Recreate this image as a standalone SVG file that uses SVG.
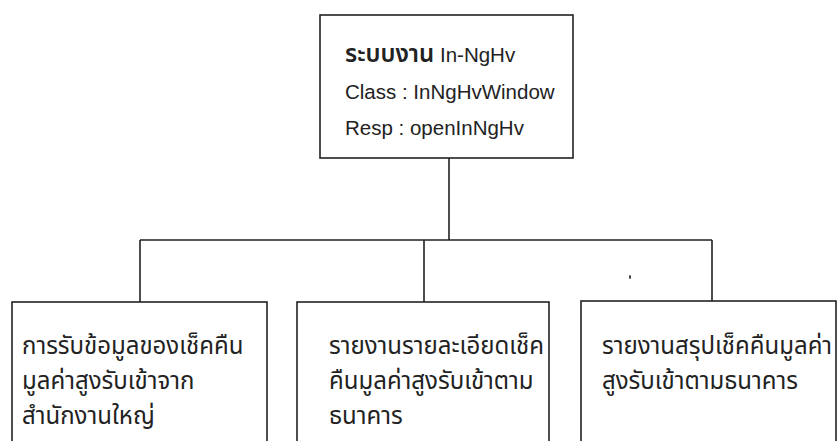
<svg xmlns="http://www.w3.org/2000/svg" width="838" height="441" viewBox="0 0 838 441">
<style>
.box{fill:#fff;stroke:#222;stroke-width:1.6}
.ln{fill:none;stroke:#222;stroke-width:1.6}
.lat{font-family:"Liberation Sans","Noto Sans Thai","Noto Sans",sans-serif;font-size:20.5px;fill:#222}
.th{font-family:"Noto Sans Thai","Noto Sans Thai Looped","Garuda","Loma","Noto Sans",sans-serif;font-size:24px;fill:#222}
</style>
<rect width="838" height="441" fill="#fff"/>
<g id="connectors">
<path class="ln" d="M449 158V240M140 240H712M140 240V302M424 240V302M712 240V301"/>
</g>
<g id="root">
<rect class="box" x="320" y="15" width="253" height="143"/>
<text class="lat" x="345" y="62"><tspan font-family="Noto Sans Thai, Noto Sans, sans-serif" font-size="24px" font-weight="600">ระบบงาน</tspan> In-NgHv</text>
<text class="lat" x="345" y="99">Class : InNgHvWindow</text>
<text class="lat" x="345" y="135">Resp : openInNgHv</text>
</g>
<g id="node1">
<rect class="box" x="12" y="302" width="255" height="160"/>
<text class="th" x="22" y="354">การรับข้อมูลของเช็คคืน</text>
<text class="th" x="22" y="389">มูลค่าสูงรับเข้าจาก</text>
<text class="th" x="22" y="424">สำนักงานใหญ่</text>
</g>
<g id="node2">
<rect class="box" x="297" y="302" width="252" height="160"/>
<text class="th" x="329" y="354">รายงานรายละเอียดเช็ค</text>
<text class="th" x="329" y="389">คืนมูลค่าสูงรับเข้าตาม</text>
<text class="th" x="329" y="424">ธนาคาร</text>
</g>
<g id="node3">
<rect class="box" x="581" y="301" width="255" height="160"/>
<text class="th" x="602" y="354">รายงานสรุปเช็คคืนมูลค่า</text>
<text class="th" x="602" y="389">สูงรับเข้าตามธนาคาร</text>
</g>
<ellipse cx="630" cy="277" rx="1" ry="2" fill="#333"/>
</svg>
